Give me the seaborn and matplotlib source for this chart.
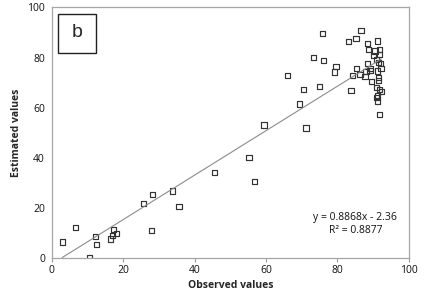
import numpy as np
import pandas as pd
import matplotlib
matplotlib.use("Agg")
import matplotlib.pyplot as plt
import seaborn as sns
from matplotlib.patches import Rectangle

# Observed vs estimated values
observed = [2.9, 6.6, 10.6, 12.3, 12.5, 16.4, 16.9, 17.2, 18.1, 25.7,
            28.0, 28.3, 33.9, 35.6, 45.6, 55.2, 56.8, 59.4, 66.0, 69.4,
            70.5, 71.2, 73.2, 74.9, 75.7, 76.1, 79.2, 79.6, 83.1, 83.8,
            84.1, 85.2, 85.4, 86.3, 86.6, 87.7, 88.0, 88.5, 88.5, 88.8,
            89.1, 89.3, 89.6, 90.2, 90.5, 90.9, 91.1, 91.1, 90.9, 90.9,
            91.1, 91.2, 91.4, 91.6, 91.6, 91.7, 91.7, 91.7, 91.7, 92.1,
            92.2, 92.3]
estimated = [6.4, 12.2, 0.0, 8.6, 5.3, 7.6, 8.9, 11.4, 9.8, 21.8,
             11.0, 25.4, 26.8, 20.7, 34.0, 40.0, 30.7, 53.1, 73.0, 61.5,
             67.3, 51.9, 80.1, 68.3, 89.5, 78.8, 74.2, 76.4, 86.3, 66.9,
             73.0, 87.6, 75.6, 73.2, 90.8, 72.4, 74.4, 85.5, 77.6, 83.1,
             74.8, 75.6, 70.5, 80.9, 82.6, 79.3, 86.6, 74.6, 68.1, 64.1,
             62.7, 64.7, 78.0, 72.1, 70.7, 57.4, 83.1, 81.3, 67.1, 77.6,
             75.7, 66.4]
slope = 0.8868
intercept = -2.36
r2 = 0.8877

df = pd.DataFrame({"Observed": observed, "Estimated": estimated})

sns.set_theme(style="white")
plt.rcParams['font.family'] = ['Open Sans', 'DejaVu Sans']

fig = plt.figure(figsize=(4.43, 2.97), dpi=100)
ax = fig.add_axes([0.117, 0.131, 0.806, 0.844])

sns.scatterplot(data=df, x="Observed", y="Estimated", ax=ax, marker="s",
                s=14, facecolor="none", edgecolor="#333333", linewidth=0.85)

# linea de tendencia sobre el rango de los datos
xs = np.array([max(min(observed), -intercept / slope), max(observed)])
ax.plot(xs, slope * xs + intercept, color="#8c8c8c", linewidth=0.8, zorder=1)

ax.set_xlim(0, 100)
ax.set_ylim(0, 100)
ax.set_xticks(range(0, 101, 20))
ax.set_yticks(range(0, 101, 20))
ax.tick_params(labelsize=7.5, width=0.8, color="#999999",
               direction="out", pad=2, labelcolor="#111111")
ax.tick_params(axis="x", bottom=True, length=3)
ax.tick_params(axis="y", left=True, length=0, pad=5)
for sp in ax.spines.values():
    sp.set_color("#a6a6a6")
    sp.set_linewidth(0.9)

ax.set_xlabel("Observed values", fontsize=7.5, fontweight="bold", labelpad=3)
ax.set_ylabel("Estimated values", fontsize=7.5, fontweight="bold", labelpad=4)

ax.text(0.85, 0.135, f"y = {slope}x - {abs(intercept)}\nR² = {r2}",
        transform=ax.transAxes, ha="center", va="center", fontsize=7.5,
        color="#111111", linespacing=1.3)

ax.add_patch(Rectangle((0.016, 0.82), 0.107, 0.155, transform=ax.transAxes,
                       facecolor="white", edgecolor="#222222", linewidth=1.0,
                       zorder=5))
ax.text(0.0695, 0.898, "b", transform=ax.transAxes, ha="center", va="center",
        fontsize=14, family="Liberation Sans", zorder=6)

fig.savefig("out.png", dpi=100)
